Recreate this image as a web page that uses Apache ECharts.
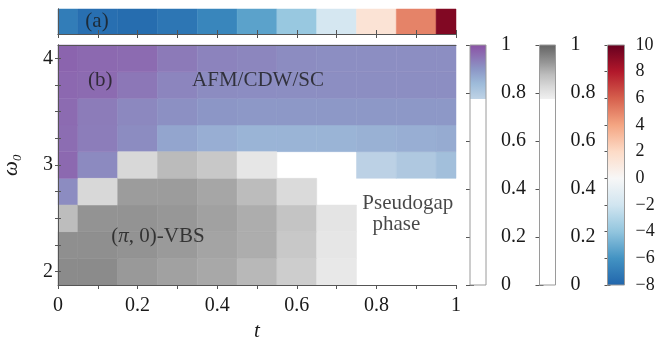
<!DOCTYPE html>
<html><head><meta charset="utf-8">
<script src="https://cdn.jsdelivr.net/npm/echarts@6/dist/echarts.min.js"></script>
<style>html,body{margin:0;padding:0;background:#fff}#c{width:656px;height:339px}</style>
</head><body><div id="c"></div>
<script>
// ---------- data ----------
var tValues = [0, 0.1, 0.2, 0.3, 0.4, 0.5, 0.6, 0.7, 0.8, 0.9, 1.0];
var omegaValues = [2.0, 2.25, 2.5, 2.75, 3.0, 3.25, 3.5, 3.75, 4.0];
// panel (a): one row of values on the -8..10 colour scale
var stripValues = [-7.0, -7.6, -7.7, -7.3, -6.6, -5.4, -3.8, -1.8, 1.4, 5.0, 9.3];
// AFM/CDW/SC order (purple), rows from omega = 2.0 (first) up to 4.0 (last)
var afmRows = [
  [null, null, null, null, null, null, null, null, null, null, null],
  [null, null, null, null, null, null, null, null, null, null, null],
  [null, null, null, null, null, null, null, null, null, null, null],
  [0.915, null, null, null, null, null, null, null, null, null, null],
  [0.965, 0.918, null, null, null, null, null, null, 0.780, 0.805, 0.830],
  [0.960, 0.936, 0.915, 0.876, 0.860, 0.850, 0.850, 0.851, 0.855, 0.860, 0.865],
  [0.962, 0.938, 0.920, 0.909, 0.900, 0.897, 0.897, 0.897, 0.897, 0.897, 0.897],
  [0.967, 0.962, 0.945, 0.925, 0.915, 0.913, 0.912, 0.912, 0.912, 0.912, 0.912],
  [0.973, 0.965, 0.963, 0.941, 0.928, 0.923, 0.915, 0.912, 0.912, 0.912, 0.912]
];
// (pi,0)-VBS order (grey), rows from omega = 2.0 up to 4.0
var vbsRows = [
  [0.942, 0.942, 0.923, 0.913, 0.903, 0.883, 0.848, 0.793, null, null, null],
  [0.937, 0.937, 0.931, 0.922, 0.909, 0.897, 0.856, 0.797, null, null, null],
  [0.876, 0.931, 0.931, 0.926, 0.913, 0.897, 0.863, 0.801, null, null, null],
  [null, 0.828, 0.919, 0.919, 0.906, 0.877, 0.824, null, null, null, null],
  [null, null, 0.828, 0.879, 0.856, 0.797, null, null, null, null, null],
  [null, null, null, null, null, null, null, null, null, null, null],
  [null, null, null, null, null, null, null, null, null, null, null],
  [null, null, null, null, null, null, null, null, null, null, null],
  [null, null, null, null, null, null, null, null, null, null, null]
];
var xTickLabels = [0, 0.2, 0.4, 0.6, 0.8, 1];
var yTickLabels = [2, 3, 4];
var cbTicks = [0, 0.2, 0.4, 0.6, 0.8, 1];
var rdbuTicks = [-8, -6, -4, -2, 0, 2, 4, 6, 8, 10];
var orderThreshold = 0.775;
// annotations
var annTexts = ['(b)', 'AFM/CDW/SC', '({i|\u03c0}, 0)-VBS', 'Pseudogap', 'phase'];
var annT = [0.106, 0.5025, 0.251, 0.879, 0.850];
var annW = [3.79, 3.79, 2.33, 2.635, 2.44];

// ---------- styles ----------
var FONT = 'Liberation Serif';
var TXT = '#1a1a1a';
var AX = '#555';
var rdbuColors = ['#2166ac','#4393c3','#92c5de','#d1e5f0','#f7f7f7','#fddbc7','#f4a582','#d6604d','#b2182b','#67001f'];
var rdbuRange = [-8, 10];
var bupuColors = ['#bfd3e6','#9ebcda','#8c96c6','#8c6bb1','#88419d'];
var bupuRange = [0.775, 1.025];
var greyColors = ['#f0f0f0','#d9d9d9','#bdbdbd','#969696','#737373','#525252'];
var greyRange = [0.775, 1.028];

function cells(rows) {
  var out = [];
  rows.forEach(function (r, i) {
    r.forEach(function (v, j) { if (v != null) out.push([tValues[j], omegaValues[i], v]); });
  });
  return out;
}
var dT = tValues[1] - tValues[0];
var dW = omegaValues[1] - omegaValues[0];

function cellRenderer(halfW, halfH) {
  return function (params, api) {
    var x = api.value(0), y = api.value(1);
    var a = api.coord([x - halfW, y + halfH]);
    var b = api.coord([x + halfW, y - halfH]);
    var cs = params.coordSys;
    var r = echarts.graphic.clipRectByRect(
      {x: a[0], y: a[1], width: b[0] - a[0], height: b[1] - a[1]},
      {x: cs.x, y: cs.y, width: cs.width, height: cs.height});
    if (!r) return;
    var c = api.visual('color');
    return {type: 'rect', shape: r, style: {fill: c, stroke: c, lineWidth: 0.5}};
  };
}
function colorbarRenderer(colors, range, threshold) {
  return function (params, api) {
    var lo = api.value(0), hi = api.value(1);
    var p0 = api.coord([0, lo]), p1 = api.coord([1, hi]);
    var x = p0[0], w = p1[0] - p0[0];
    var gBot = api.coord([0, range[0]])[1], gTop = api.coord([0, range[1]])[1];
    var stops = colors.map(function (c, i) { return {offset: i / (colors.length - 1), color: c}; });
    var startY = threshold != null ? api.coord([0, threshold])[1] : p0[1];
    var ch = [];
    if (threshold != null) ch.push({type: 'rect', shape: {x: x, y: startY, width: w, height: p0[1] - startY}, style: {fill: '#fff'}});
    ch.push({type: 'rect', shape: {x: x, y: p1[1], width: w, height: startY - p1[1]},
      style: {fill: new echarts.graphic.LinearGradient(0, gBot, 0, gTop, stops, true)}});
    ch.push({type: 'rect', shape: {x: x, y: p1[1], width: w, height: p0[1] - p1[1]}, style: {fill: 'none', stroke: '#9a9a9a', lineWidth: 1}});
    return {type: 'group', children: ch};
  };
}
function fmtMinus(v) { return v < 0 ? '\u2212' + (-v) : String(v); }

var lineOnly = {show: true, lineStyle: {color: AX, width: 1}};
var tick = function (len) { return {show: true, inside: false, length: len, lineStyle: {color: AX, width: 1}}; };
var lbl = function (size, margin) { return {show: true, fontFamily: FONT, fontSize: size, color: TXT, margin: margin}; };
var gridBase = {outerBoundsMode: 'none', containLabel: false};

var chart = echarts.init(document.getElementById('c'), null, {renderer: 'canvas'});
chart.setOption({
  backgroundColor: '#fff',
  animation: false,
  grid: [
    Object.assign({left: 58, top: 9, width: 398, height: 25}, gridBase),
    Object.assign({left: 58, top: 45, width: 398, height: 240}, gridBase),
    Object.assign({left: 470, top: 45, width: 16, height: 240}, gridBase),
    Object.assign({left: 539.5, top: 45, width: 16, height: 240}, gridBase),
    Object.assign({left: 607.5, top: 45, width: 17, height: 240}, gridBase)
  ],
  xAxis: [
    {gridIndex: 0, type: 'value', min: 0, max: 1, interval: 0.2, position: 'bottom', z: 10, axisLine: lineOnly, axisTick: tick(4),
      minorTick: {show: true, splitNumber: 2, length: 4, lineStyle: {color: AX}}, axisLabel: {show: false}, splitLine: {show: false}},
    {gridIndex: 0, type: 'value', min: 0, max: 1, interval: 0.2, position: 'top', z: 10, axisLine: lineOnly, axisTick: tick(4),
      minorTick: {show: true, splitNumber: 2, length: 4, lineStyle: {color: AX}}, axisLabel: {show: false}, splitLine: {show: false}},
    {gridIndex: 1, type: 'value', min: 0, max: 1, interval: 0.2, position: 'bottom', z: 10, axisLine: lineOnly, axisTick: tick(4),
      minorTick: {show: true, splitNumber: 2, length: 4, lineStyle: {color: AX}},
      axisLabel: Object.assign(lbl(20, 11), {customValues: xTickLabels}), splitLine: {show: false},
      name: 't', nameLocation: 'middle', nameGap: 23, nameTextStyle: {fontFamily: FONT, fontSize: 21, fontStyle: 'italic', color: TXT}},
    {gridIndex: 1, type: 'value', min: 0, max: 1, position: 'top', z: 10, axisLine: lineOnly, axisTick: {show: false}, axisLabel: {show: false}, splitLine: {show: false}},
    {gridIndex: 2, type: 'value', min: 0, max: 1, show: false},
    {gridIndex: 3, type: 'value', min: 0, max: 1, show: false},
    {gridIndex: 4, type: 'value', min: 0, max: 1, show: false}
  ],
  yAxis: [
    {gridIndex: 0, type: 'value', min: 0, max: 1, position: 'left', z: 10, axisLine: lineOnly, axisTick: {show: false}, axisLabel: {show: false}, splitLine: {show: false}},
    {gridIndex: 0, type: 'value', min: 0, max: 1, position: 'right', z: 10, axisLine: lineOnly, axisTick: {show: false}, axisLabel: {show: false}, splitLine: {show: false}},
    {gridIndex: 1, type: 'value', min: omegaValues[0] - dW / 2, max: omegaValues[omegaValues.length - 1] + dW / 2, position: 'left', z: 10,
      axisLine: lineOnly, axisTick: Object.assign(tick(3), {customValues: omegaValues}),
      axisLabel: Object.assign(lbl(20, 5), {customValues: yTickLabels}), splitLine: {show: false},
      name: '\u03c9\u2080', nameLocation: 'middle', nameRotate: 90, nameGap: 36,
      nameTextStyle: {fontFamily: FONT, fontSize: 21, fontStyle: 'italic', color: TXT}},
    {gridIndex: 1, type: 'value', min: omegaValues[0] - dW / 2, max: omegaValues[omegaValues.length - 1] + dW / 2, position: 'right', z: 10,
      axisLine: lineOnly, axisTick: Object.assign(tick(3), {customValues: omegaValues}), axisLabel: {show: false}, splitLine: {show: false}},
    {gridIndex: 2, type: 'value', min: 0, max: 1, interval: 0.2, position: 'right', axisLine: {show: false}, axisTick: tick(4),
      axisLabel: Object.assign(lbl(20, 15), {customValues: cbTicks}), splitLine: {show: false}},
    {gridIndex: 2, type: 'value', min: 0, max: 1, interval: 0.2, position: 'left', axisLine: {show: false}, axisTick: tick(4), axisLabel: {show: false}, splitLine: {show: false}},
    {gridIndex: 3, type: 'value', min: 0, max: 1, interval: 0.2, position: 'right', axisLine: {show: false}, axisTick: tick(4),
      axisLabel: Object.assign(lbl(20, 15), {customValues: cbTicks}), splitLine: {show: false}},
    {gridIndex: 3, type: 'value', min: 0, max: 1, interval: 0.2, position: 'left', axisLine: {show: false}, axisTick: tick(4), axisLabel: {show: false}, splitLine: {show: false}},
    {gridIndex: 4, type: 'value', min: rdbuRange[0], max: rdbuRange[1], interval: 2, position: 'right', axisLine: {show: false}, axisTick: tick(3),
      axisLabel: Object.assign(lbl(18, 11), {formatter: fmtMinus, customValues: rdbuTicks}), splitLine: {show: false}},
    {gridIndex: 4, type: 'value', min: rdbuRange[0], max: rdbuRange[1], interval: 2, position: 'left', axisLine: {show: false}, axisTick: tick(3), axisLabel: {show: false}, splitLine: {show: false}}
  ],
  visualMap: [
    {type: 'continuous', show: false, seriesIndex: 0, dimension: 2, min: rdbuRange[0], max: rdbuRange[1], inRange: {color: rdbuColors}},
    {type: 'continuous', show: false, seriesIndex: 1, dimension: 2, min: bupuRange[0], max: bupuRange[1], inRange: {color: bupuColors}},
    {type: 'continuous', show: false, seriesIndex: 2, dimension: 2, min: greyRange[0], max: greyRange[1], inRange: {color: greyColors}}
  ],
  series: [
    {type: 'custom', xAxisIndex: 0, yAxisIndex: 0, renderItem: cellRenderer(dT / 2, 0.5), encode: {x: 0, y: 1},
      data: stripValues.map(function (v, j) { return [tValues[j], 0.5, v]; })},
    {type: 'custom', xAxisIndex: 2, yAxisIndex: 2, renderItem: cellRenderer(dT / 2, dW / 2), encode: {x: 0, y: 1}, data: cells(afmRows)},
    {type: 'custom', xAxisIndex: 2, yAxisIndex: 2, renderItem: cellRenderer(dT / 2, dW / 2), encode: {x: 0, y: 1}, data: cells(vbsRows)},
    {type: 'custom', xAxisIndex: 4, yAxisIndex: 4, renderItem: colorbarRenderer(bupuColors, bupuRange, orderThreshold), data: [[0, 1]]},
    {type: 'custom', xAxisIndex: 5, yAxisIndex: 6, renderItem: colorbarRenderer(greyColors, greyRange, orderThreshold), data: [[0, 1]]},
    {type: 'custom', xAxisIndex: 6, yAxisIndex: 8, renderItem: colorbarRenderer(rdbuColors, rdbuRange, null), data: [[rdbuRange[0], rdbuRange[1]]]},
    {type: 'scatter', xAxisIndex: 2, yAxisIndex: 2, symbolSize: 1, silent: true, z: 20, itemStyle: {color: 'rgba(0,0,0,0)'},
      label: {show: true, position: 'inside', color: TXT, fontFamily: FONT, fontSize: 21,
        formatter: function (p) { return p.name; },
        rich: {i: {fontFamily: FONT, fontSize: 21, fontStyle: 'italic', color: TXT}}},
      data: annTexts.map(function (s, i) { return {name: s, value: [annT[i], annW[i]]}; })},
    {type: 'scatter', xAxisIndex: 0, yAxisIndex: 0, symbolSize: 1, silent: true, z: 20, itemStyle: {color: 'rgba(0,0,0,0)'},
      label: {show: true, position: 'inside', color: TXT, fontFamily: FONT, fontSize: 21, formatter: function (p) { return p.name; }},
      data: [{name: '(a)', value: [0.098, 0.5]}]}
  ]
});
</script></body></html>
